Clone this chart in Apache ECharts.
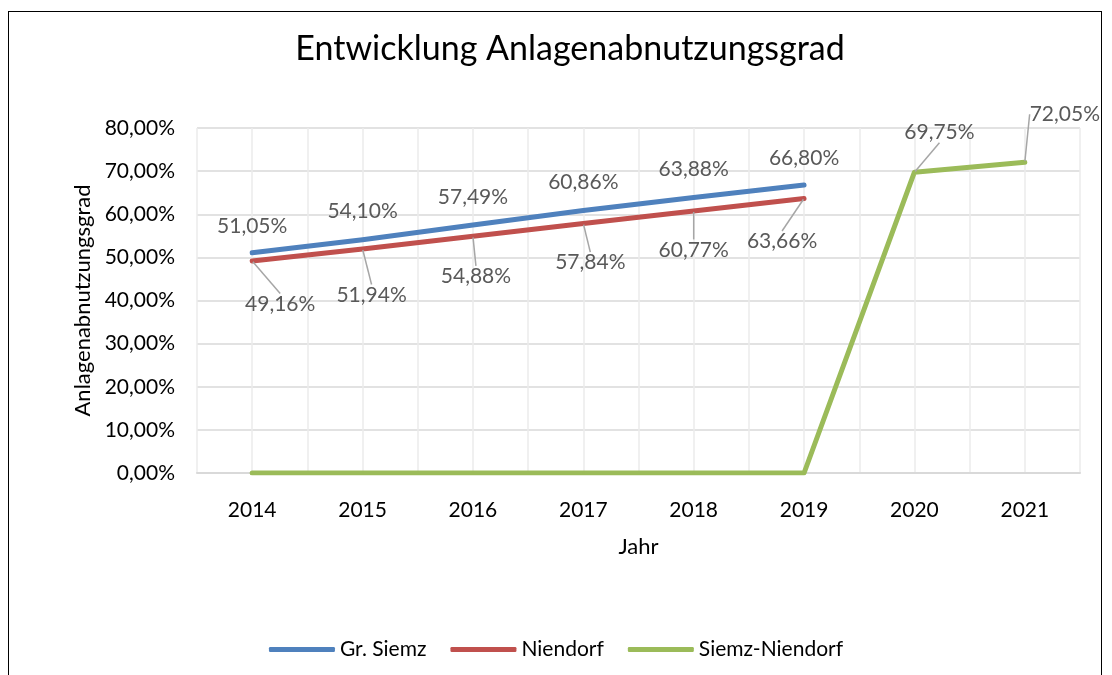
<!DOCTYPE html>
<html>
<head>
<meta charset="utf-8">
<script src="https://cdn.jsdelivr.net/npm/echarts@6/dist/echarts.min.js"></script>
<style>
  html, body { margin: 0; padding: 0; background: #fff; }
  #frame {
    position: absolute; left: 8px; top: 11px; width: 1094px; height: 700px;
    border: 1.5px solid #000; box-sizing: border-box;
  }
  #chart { position: absolute; left: 0; top: 0; width: 1112px; height: 675px; }
</style>
</head>
<body>
<div id="frame"></div>
<div id="chart"></div>
<script>
const years = ['2014', '2015', '2016', '2017', '2018', '2019', '2020', '2021'];
const grSiemz = [51.05, 54.10, 57.49, 60.86, 63.88, 66.80, null, null];
const niendorf = [49.16, 51.94, 54.88, 57.84, 60.77, 63.66, null, null];
const siemzNiendorf = [0, 0, 0, 0, 0, 0, 69.75, 72.05];
const yTicks = { min: 0, max: 80, interval: 10 };

// label offsets (dx, dy) from each point
const blueOffsets = [[0, -27], [0, -28], [0, -28], [0, -28], [0, -28], [0, -27]];
const redOffsets = [[28, 43], [9, 46], [3, 40], [7, 39], [0, 39], [-22, 43]];
const greenOffsets = [[0, 0], [0, 0], [0, 0], [0, 0], [0, 0], [0, 0], [25, -40], [40, -48]];

const FONT = 'Lato, "Liberation Sans", sans-serif';
const fmt = v => v.toFixed(2).replace('.', ',') + '%';

const chart = echarts.init(document.getElementById('chart'));

function toItems(values) {
  return values.map(v => {
    if (v === 0) return { value: v, label: { show: false }, labelLine: { show: false } };
    return v;
  });
}

function lineSeries(name, values, color, offsets, withLine) {
  return {
    name: name,
    type: 'line',
    data: toItems(values),
    symbol: 'circle',
    symbolSize: 2,
    itemStyle: { color: color },
    lineStyle: { width: 5, color: color, cap: 'round', join: 'round' },
    label: {
      show: true,
      position: 'inside',
      formatter: p => fmt(p.value),
      fontFamily: FONT,
      fontSize: 21,
      color: '#595959'
    },
    labelLine: { show: withLine, lineStyle: { color: '#A6A6A6', width: 1.5 } },
    labelLayout: p => {
      const o = offsets[p.dataIndex] || [0, 0];
      return { dx: o[0], dy: o[1] };
    },
    emphasis: { disabled: true },
    animation: false
  };
}

chart.setOption({
  animation: false,
  title: {
    text: 'Entwicklung Anlagenabnutzungsgrad',
    left: 565,
    top: 27,
    textAlign: 'center',
    textStyle: { fontFamily: FONT, fontSize: 34, fontWeight: 'normal', color: '#000' }
  },
  legend: {
    bottom: 10,
    left: 'center',
    icon: 'roundRect',
    itemWidth: 66,
    itemHeight: 5,
    itemGap: 24,
    textStyle: { fontFamily: FONT, fontSize: 21, color: '#000' },
    data: ['Gr. Siemz', 'Niendorf', 'Siemz-Niendorf']
  },
  grid: { left: 197, right: 32, top: 128, bottom: 202 },
  xAxis: [
    {
      type: 'category',
      data: years,
      boundaryGap: true,
      name: 'Jahr',
      nameLocation: 'middle',
      nameGap: 63,
      nameTextStyle: { fontFamily: FONT, fontSize: 22, color: '#000' },
      axisLine: { lineStyle: { color: '#D9D9D9', width: 2 } },
      axisTick: { show: false },
      axisLabel: { fontFamily: FONT, fontSize: 21, color: '#000', margin: 27 },
      splitLine: { show: false }
    },
    {
      type: 'category',
      data: new Array(years.length * 2).fill(''),
      boundaryGap: true,
      position: 'bottom',
      axisLine: { show: false },
      axisTick: { show: false },
      axisLabel: { show: false },
      splitLine: { show: true, interval: 0, lineStyle: { color: '#EBEBEB', width: 1.5 } }
    }
  ],
  yAxis: {
    type: 'value',
    min: yTicks.min,
    max: yTicks.max,
    interval: yTicks.interval,
    name: 'Anlagenabnutzungsgrad',
    nameLocation: 'middle',
    nameGap: 100,
    nameTextStyle: { fontFamily: FONT, fontSize: 22, color: '#000' },
    axisLine: { show: false },
    axisTick: { show: false },
    axisLabel: { fontFamily: FONT, fontSize: 21, color: '#000', margin: 22, formatter: fmt },
    splitLine: { lineStyle: { color: '#D9D9D9', width: 1.5 } }
  },
  series: [
    lineSeries('Gr. Siemz', grSiemz, '#4F81BD', blueOffsets, false),
    lineSeries('Niendorf', niendorf, '#C0504D', redOffsets, true),
    lineSeries('Siemz-Niendorf', siemzNiendorf, '#9BBB59', greenOffsets, true)
  ]
});
</script>
</body>
</html>
